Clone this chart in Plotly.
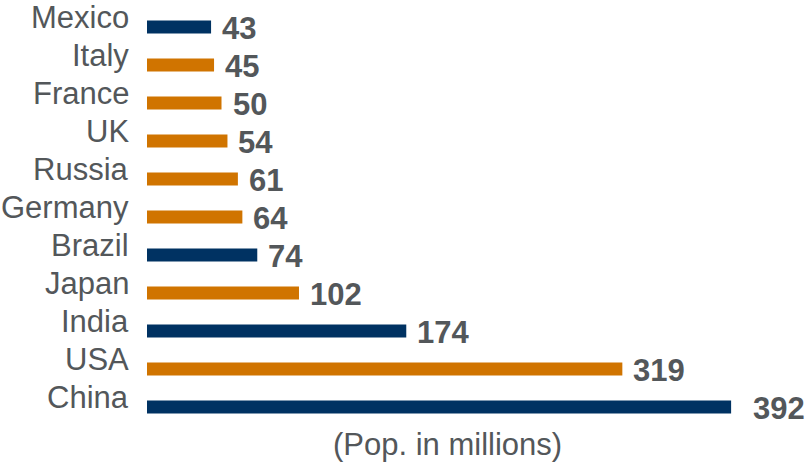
import plotly.graph_objects as go

countries = ["Mexico", "Italy", "France", "UK", "Russia", "Germany", "Brazil", "Japan", "India", "USA", "China"]
population = [43, 45, 50, 54, 61, 64, 74, 102, 174, 319, 392]
highlight = [True, False, False, False, False, False, True, False, True, False, True]

NAVY = "#003262"
ORANGE = "#D07400"
GRAY = "#53575A"

colors = [NAVY if h else ORANGE for h in highlight]

fig = go.Figure(go.Bar(
    x=population, y=countries, orientation="h",
    marker=dict(color=colors, line=dict(width=0)),
    width=0.34, hoverinfo="skip",
))

annotations = []
for c, v in zip(countries, population):
    annotations.append(dict(
        x=v, y=c, xref="x", yref="y", text=str(v), showarrow=False,
        xanchor="left", yanchor="middle", xshift=20 if v == max(population) else 9, yshift=-1,
        font=dict(family="Liberation Sans Narrow, Arial Narrow, Liberation Sans", size=31, color=GRAY, weight="bold"),
    ))
    annotations.append(dict(
        x=0, y=c, xref="paper", yref="y", text=c, showarrow=False,
        xanchor="right", yanchor="middle", xshift=-16, yshift=10,
        font=dict(family="Liberation Sans, Arial", size=31, color=GRAY),
    ))
annotations.append(dict(
    x=0.454, y=0, xref="paper", yref="paper", text="(Pop. in millions)", showarrow=False,
    xanchor="center", yanchor="top", yshift=1,
    font=dict(family="Liberation Sans, Arial", size=31, color=GRAY),
))

fig.update_layout(
    width=808, height=467,
    margin=dict(l=147, r=0, t=8, b=41, pad=0, autoexpand=False),
    paper_bgcolor="white", plot_bgcolor="white",
    showlegend=False,
    annotations=annotations,
    xaxis=dict(range=[0, 443.6], visible=False, fixedrange=True, automargin=False),
    yaxis=dict(range=[10.5, -0.5], autorange=False, showticklabels=False, showgrid=False, zeroline=False,
               showline=False, ticks="", fixedrange=True, automargin=False),
)

fig.write_html("out.html", config={"displayModeBar": False},
               post_script="document.body.style.margin='0';document.body.style.overflow='hidden';")
